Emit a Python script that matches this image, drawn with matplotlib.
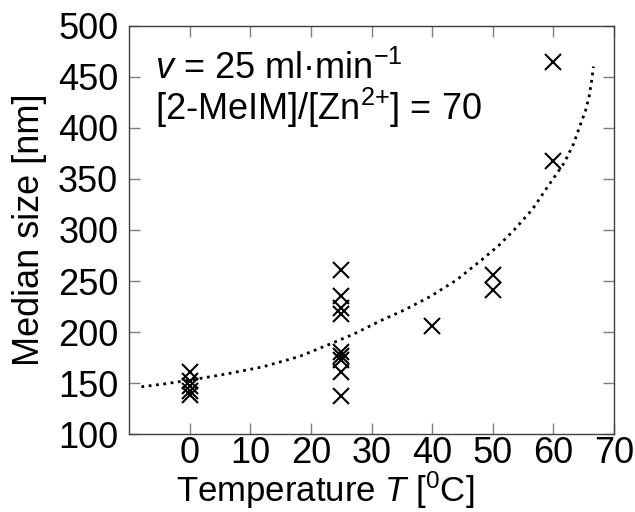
import matplotlib
matplotlib.use("Agg")
import matplotlib.pyplot as plt

plt.rcParams['font.family'] = ['Liberation Sans', 'DejaVu Sans']
plt.rcParams['mathtext.fontset'] = 'custom'
plt.rcParams['mathtext.rm'] = 'Liberation Sans'
plt.rcParams['mathtext.it'] = 'Liberation Sans:italic'
plt.rcParams['mathtext.default'] = 'regular'

# measured points
temp_pts = [0, 0, 0, 0, 0,
            25, 25, 25, 25, 25, 25, 25, 25, 25,
            40, 50, 50, 60, 60]
size_pts = [161, 152, 147, 142, 138,
            261, 235, 224, 218, 181, 177, 173, 161, 137,
            206, 256, 241, 464, 368]

# dotted trend curve
curve_T = [-8, -4, 0, 6, 12, 18, 23, 27, 31.4, 35.5, 39.7, 44, 48, 51, 53.5,
           56.5, 59, 61.8, 63.3, 64.5, 65.3, 65.9, 66.3, 66.6]
curve_v = [146.5, 149.5, 153, 159, 166, 176, 188, 198, 211, 222, 235, 251,
           270, 285, 300, 320, 342, 366, 384, 404, 417, 431, 446, 460]

xticks = [0, 10, 20, 30, 40, 50, 60, 70]
yticks = [100, 150, 200, 250, 300, 350, 400, 450, 500]

fig = plt.figure(figsize=(6.35, 5.12), dpi=100)
ax = fig.add_axes([0.2036, 0.1518, 0.7634, 0.798])

ax.plot(curve_T, curve_v, linestyle=':', color='black', linewidth=2.0)
ax.plot(temp_pts, size_pts, linestyle='none', marker='x', color='black',
        markersize=11, markeredgewidth=1.5)

ax.set_xlim(-10, 70)
ax.set_ylim(100, 500)
ax.set_xticks(xticks)
ax.set_yticks(yticks)
ax.tick_params(direction='in', length=8, width=1, color='#808080',
               labelsize=26, top=True, right=True, pad=1)
ax.tick_params(axis='y', pad=8)
for s in ax.spines.values():
    s.set_color('#404040')
    s.set_linewidth(1.0)

ax.set_xlabel(r"Temperature $\mathit{T}$ [$^{0}$C]", fontsize=25)
ax.xaxis.set_label_coords(0.405, -0.085)
ax.set_ylabel("Median size [nm]", fontsize=26)
ax.yaxis.set_label_coords(-0.17, 0.5)

ax.text(0.053, 0.895, r"$\mathit{v}$ = 25 ml·min$^{−1}$", transform=ax.transAxes,
        fontsize=26, va='center', ha='left')
ax.text(0.053, 0.80, r"[2-MeIM]/[Zn$^{2{+}}$] = 70", transform=ax.transAxes,
        fontsize=26, va='center', ha='left')

fig.savefig("out.png", dpi=100)
